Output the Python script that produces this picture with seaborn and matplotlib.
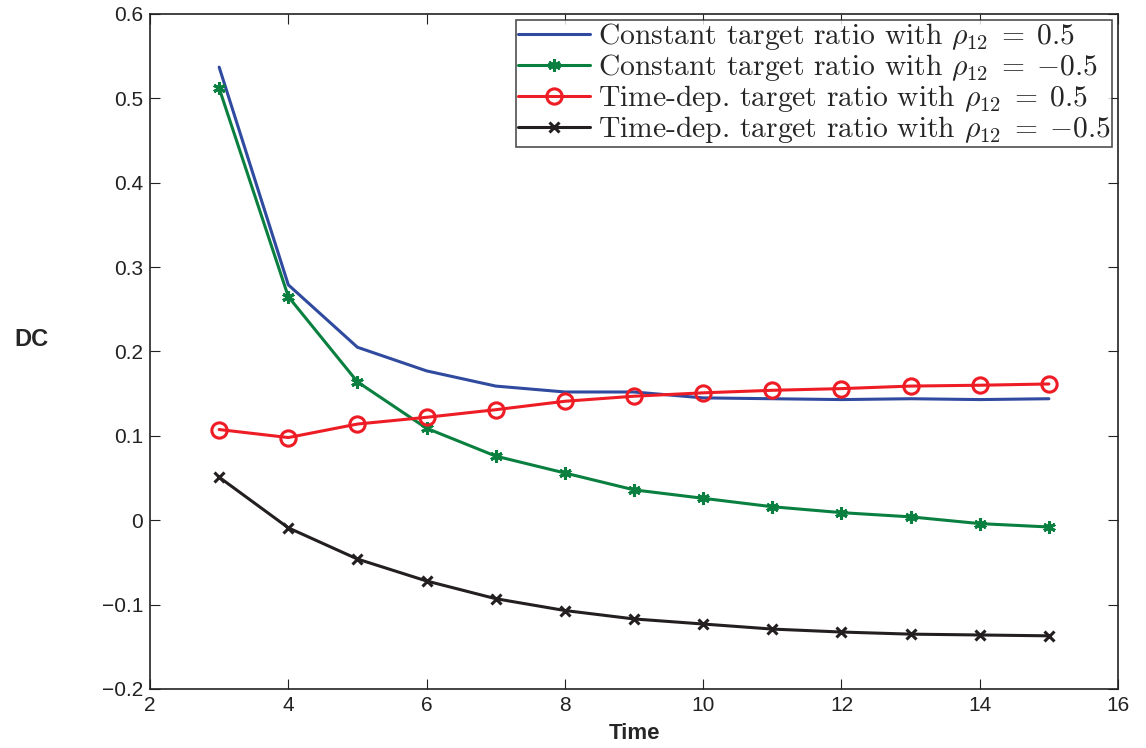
import numpy as np
import pandas as pd
import matplotlib
matplotlib.use("Agg")
import matplotlib.pyplot as plt
import seaborn as sns

time = [3, 4, 5, 6, 7, 8, 9, 10, 11, 12, 13, 14, 15]

const_pos = [0.537, 0.279, 0.205, 0.177, 0.159, 0.152, 0.152, 0.145, 0.144, 0.143, 0.144, 0.143, 0.144]
const_neg = [0.512, 0.265, 0.164, 0.109, 0.076, 0.056, 0.036, 0.026, 0.016, 0.009, 0.004, -0.004, -0.008]
tdep_pos = [0.1075, 0.098, 0.114, 0.122, 0.131, 0.141, 0.147, 0.151, 0.154, 0.156, 0.159, 0.160, 0.1615]
tdep_neg = [0.051, -0.009, -0.046, -0.072, -0.093, -0.107, -0.117, -0.123, -0.129, -0.1325, -0.135, -0.136, -0.137]

labels = [
    r"Constant target ratio with $\rho_{12}\;=\;0.5$",
    r"Constant target ratio with $\rho_{12}\;=\;{-}0.5$",
    r"Time-dep. target ratio with $\rho_{12}\;=\;0.5$",
    r"Time-dep. target ratio with $\rho_{12}\;=\;{-}0.5$",
]

x_ticks = [2, 4, 6, 8, 10, 12, 14, 16]
y_ticks = [-0.2, -0.1, 0, 0.1, 0.2, 0.3, 0.4, 0.5, 0.6]
y_tick_labels = ["\u22120.2", "\u22120.1", "0", "0.1", "0.2", "0.3", "0.4", "0.5", "0.6"]

sns.set_style("ticks")
plt.rcParams["font.family"] = ["Liberation Sans", "DejaVu Sans"]
plt.rcParams["mathtext.fontset"] = "cm"
plt.rcParams["xtick.direction"] = "in"
plt.rcParams["ytick.direction"] = "in"

df = pd.DataFrame({
    "Time": time * 4,
    "DC": const_pos + const_neg + tdep_pos + tdep_neg,
    "series": sum([[lab] * len(time) for lab in labels], []),
})

fig = plt.figure(figsize=(11.46, 7.48), dpi=100)
ax = fig.add_axes([0.1309, 0.0789, 0.8447, 0.9024])

styles = [
    dict(color="#2f4a9f", marker=None),
    dict(color="#0a8040", marker=(6, 2, 0), markersize=9, markeredgewidth=2.2,
         markerfacecolor="#0a8040", markeredgecolor="#0a8040"),
    dict(color="#ee1c25", marker="o", markersize=11, markeredgewidth=2.2,
         markerfacecolor="none", markeredgecolor="#ee1c25"),
    dict(color="#231f20", marker="x", markersize=7, markeredgewidth=2.2,
         markeredgecolor="#231f20"),
]

for lab, st in zip(labels, styles):
    sub = df[df["series"] == lab]
    sns.lineplot(data=sub, x="Time", y="DC", ax=ax, label=lab, linewidth=2.2, **st)

ax.set_xlim(2, 16)
ax.set_ylim(-0.2, 0.6)
ax.set_xticks(x_ticks)
ax.set_xticklabels([str(v) for v in x_ticks])
ax.set_yticks(y_ticks)
ax.set_yticklabels(y_tick_labels)
ax.tick_params(axis="both", which="both", top=True, right=True, length=7,
               width=0.8, labelsize=15, colors="#222222", pad=5)
for sp in ax.spines.values():
    sp.set_linewidth(1.2)
    sp.set_color("#222222")

ax.set_xlabel("Time", fontsize=16, fontweight="bold", labelpad=6)
ax.set_ylabel("DC", fontsize=17, fontweight="bold", rotation=0, labelpad=0)
ax.yaxis.set_label_coords(-0.123, 0.5)

leg = ax.legend(loc="upper right", prop={"family": "cmr10", "size": 21.3},
                frameon=True, fancybox=False, edgecolor="#222222",
                borderpad=0.05, labelspacing=0.0, handlelength=2.45,
                handletextpad=0.25, borderaxespad=0.2)
leg.get_frame().set_linewidth(1.2)

fig.savefig("out.png", dpi=100)
